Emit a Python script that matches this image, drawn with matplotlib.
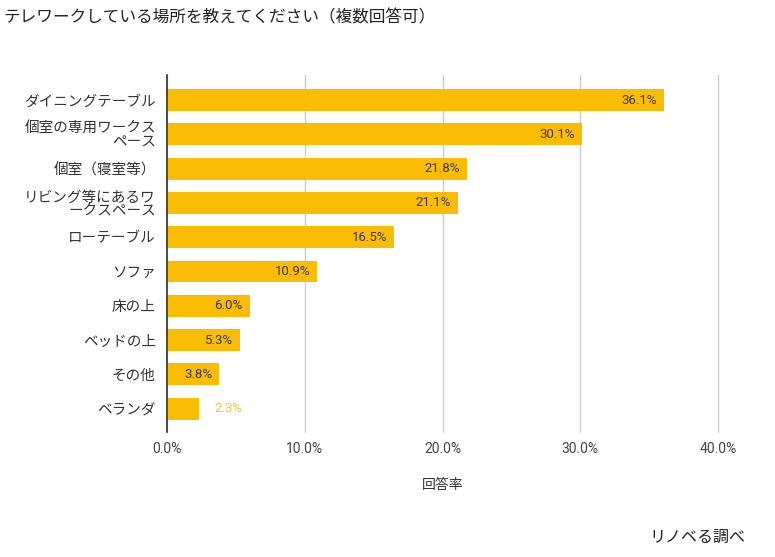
import matplotlib
matplotlib.use("Agg")
import matplotlib.pyplot as plt

plt.rcParams['font.family'] = ['Roboto', 'Noto Sans CJK JP', 'DejaVu Sans']

categories = ["ダイニングテーブル", "個室の専用ワークス\nペース", "個室（寝室等）",
              "リビング等にあるワ\nークスペース", "ローテーブル", "ソファ", "床の上",
              "ベッドの上", "その他", "ベランダ"]
values = [36.1, 30.1, 21.8, 21.1, 16.5, 10.9, 6.0, 5.3, 3.8, 2.3]
xticks = [0, 10, 20, 30, 40]
xticklabels = ["0.0%", "10.0%", "20.0%", "30.0%", "40.0%"]

bar_color = "#FBBC04"

fig = plt.figure(figsize=(7.75, 5.57), dpi=100)
ax = fig.add_axes([167/775, 1-432/557, (718-167)/775, (432-75)/557])

pos = list(range(len(categories)))
ax.barh(pos, values, height=0.64, color=bar_color, zorder=3)
ax.set_xlim(0, 40)
ax.set_ylim(9.68, -0.73)

ax.set_xticks(xticks)
ax.set_xticklabels(xticklabels, fontsize=10, color="#444444")
ax.set_yticks(pos)
ax.set_yticklabels(categories, fontsize=10.5, color="#333333", linespacing=0.95)
ax.tick_params(axis='both', length=0)
ax.tick_params(axis='x', pad=7)
ax.tick_params(axis='y', pad=8)

ax.grid(axis='x', color="#cccccc", linewidth=1, zorder=0)
for gl in ax.get_xgridlines():
    gl.set_clip_on(False)
for s in ['top', 'right', 'bottom']:
    ax.spines[s].set_visible(False)
ax.spines['left'].set_color("#333333")
ax.spines['left'].set_linewidth(1.2)
ax.spines['left'].set_zorder(4)

for p, v in zip(pos, values):
    if v > 3:
        ax.annotate(f"{v:.1f}%", (v, p), xytext=(-5, 0), textcoords='offset points',
                    ha='right', va='center', fontsize=9.5, color="#3a3a3a", zorder=5)
    else:
        ax.annotate(f"{v:.1f}%", (v, p), xytext=(11, 0), textcoords='offset points',
                    ha='left', va='center', fontsize=9.5, color="#F2C037", zorder=5)

ax.set_xlabel("回答率", fontsize=10, color="#333333", labelpad=16,
              family=['Noto Sans CJK JP'])

fig.text(3/775, 1-18/557, "テレワークしている場所を教えてください（複数回答可）",
         fontsize=12, color="#222222", ha='left', va='center',
         family=['Noto Sans CJK JP'])
fig.text(745/775, 1-537/557, "リノベる調べ", fontsize=11.5, color="#222222",
         ha='right', va='center', family=['Noto Sans CJK JP'])

fig.savefig("out.png", dpi=100)
